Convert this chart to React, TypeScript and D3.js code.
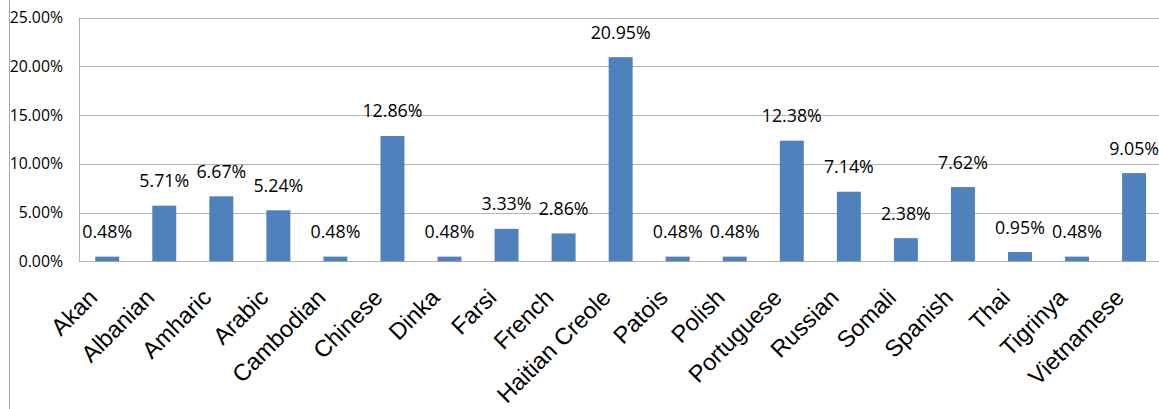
import React from "react";
import * as d3 from "d3";

const categories = ["Akan","Albanian","Amharic","Arabic","Cambodian","Chinese","Dinka","Farsi","French","Haitian Creole","Patois","Polish","Portuguese","Russian","Somali","Spanish","Thai","Tigrinya","Vietnamese"];
const values = [0.48,5.71,6.67,5.24,0.48,12.86,0.48,3.33,2.86,20.95,0.48,0.48,12.38,7.14,2.38,7.62,0.95,0.48,9.05];
const yTicks = [0,5,10,15,20,25];

const W = 1159, H = 409;
const left = 78.7, right = 1162.6, top = 17.7, bottom = 261.3;

export default function App() {
  const x = d3.scaleBand<string>().domain(categories).range([left, right]).paddingInner(0.58).paddingOuter(0.29);
  const y = d3.scaleLinear().domain([0, 25]).range([bottom, top]);
  const grid = "#b3b3b3";
  return (
    <svg width={W} height={H} style={{ position: "absolute", left: 0, top: 0, background: "#fff" }}>
      <rect x={0} y={0} width={W} height={H} fill="#fff" />
      <line x1={9.5} x2={9.5} y1={0} y2={H} stroke="#a6a6a6" strokeWidth={1} />
      {yTicks.map(t => (
        <g key={t}>
          <line x1={left} x2={W} y1={Math.round(y(t)) + 0.5} y2={Math.round(y(t)) + 0.5} stroke={grid} strokeWidth={1} />
          <text x={63} y={y(t) + 5.5} textAnchor="end" fontFamily="Open Sans" fontSize={15.8} fill="#000">{t.toFixed(2)}%</text>
        </g>
      ))}
      <line x1={Math.round(left) + 0.5} x2={Math.round(left) + 0.5} y1={top} y2={bottom} stroke={grid} strokeWidth={1} />
      {categories.map((c, i) => {
        const bx = x(c)!;
        const cx = bx + x.bandwidth() / 2;
        return (
          <g key={c}>
            <rect x={bx} y={y(values[i])} width={x.bandwidth()} height={bottom - y(values[i])} fill="#4f81bd" />
            <text x={cx} y={y(values[i]) - 18.5} textAnchor="middle" fontFamily="Open Sans" fontSize={17.8} fill="#000">{values[i].toFixed(2)}%</text>
            <text transform={`translate(${cx - 8.5},${299}) rotate(-45)`} textAnchor="end" fontFamily="Liberation Sans, Arial" fontSize={23.5} fill="#000">{c}</text>
          </g>
        );
      })}
    </svg>
  );
}
